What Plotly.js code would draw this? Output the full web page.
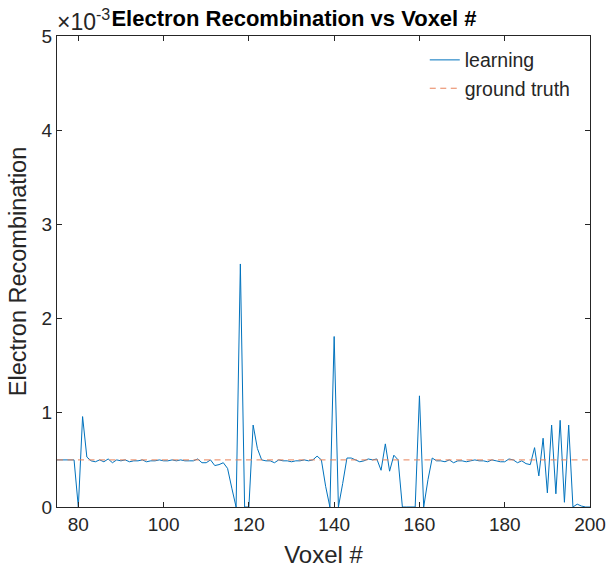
<!DOCTYPE html>
<html>
<head>
<meta charset="utf-8">
<script src="https://cdn.plot.ly/plotly-3.0.1.min.js"></script>
<style>html,body{margin:0;padding:0;background:#fff;}#chart{width:610px;height:573px;}</style>
</head>
<body>
<div id="chart"></div>
<script>
// Voxel numbers
const voxels = [];
for (let v = 75; v <= 200; v++) voxels.push(v);

// learning values (units of 1e-3)
const learningE3 = [
  0.50, 0.50, 0.50, 0.50, 0.50, 0.00, 0.96, 0.53, 0.49, 0.48, // 75-84
  0.50, 0.48, 0.51, 0.47, 0.50, 0.49, 0.50, 0.48, 0.49, 0.49, // 85-94
  0.50, 0.48, 0.49, 0.49, 0.50, 0.49, 0.49, 0.50, 0.49, 0.50, // 95-104
  0.49, 0.49, 0.49, 0.51, 0.47, 0.47, 0.50, 0.44, 0.45, 0.47, // 105-114
  0.41, 0.20, 0.00, 2.58, 0.00, 0.00, 0.87, 0.62, 0.50, 0.49, // 115-124
  0.49, 0.47, 0.50, 0.49, 0.49, 0.48, 0.49, 0.49, 0.50, 0.49, // 125-134
  0.50, 0.54, 0.50, 0.22, 0.00, 1.81, 0.00, 0.25, 0.52, 0.52, // 135-144
  0.50, 0.48, 0.49, 0.51, 0.50, 0.51, 0.39, 0.67, 0.38, 0.55, // 145-154
  0.50, 0.00, 0.00, 0.00, 0.00, 1.18, 0.00, 0.29, 0.52, 0.49, // 155-164
  0.49, 0.48, 0.50, 0.47, 0.49, 0.49, 0.48, 0.49, 0.50, 0.49, // 165-174
  0.49, 0.48, 0.50, 0.49, 0.48, 0.48, 0.51, 0.50, 0.47, 0.49, // 175-184
  0.46, 0.45, 0.63, 0.33, 0.73, 0.15, 0.87, 0.14, 0.92, 0.05, // 185-194
  0.87, 0.00, 0.03, 0.01, 0.00, 0.00                          // 195-200
];
const learning = learningE3.map(v => v * 1e-3);

const groundTruthValue = 0.5e-3;
const groundTruth = voxels.map(() => groundTruthValue);

const xTickVals = [80, 100, 120, 140, 160, 180, 200];
const yTickVals = [0, 0.001, 0.002, 0.003, 0.004, 0.005];
const yTickText = ['0', '1', '2', '3', '4', '5'];

const axisColor = '#262626';
const fontFam = 'Liberation Sans, Arial, Helvetica, sans-serif';

const traces = [
  {
    x: voxels, y: learning, type: 'scatter', mode: 'lines', name: 'learning',
    line: {color: '#0072BD', width: 1}
  },
  {
    x: voxels, y: groundTruth, type: 'scatter', mode: 'lines', name: 'ground truth',
    line: {color: '#E8825A', width: 1, dash: '6px,4.5px'}
  }
];

const layout = {
  width: 610, height: 573,
  margin: {l: 57, r: 20, t: 36, b: 66},
  paper_bgcolor: '#fff', plot_bgcolor: '#fff',
  font: {family: fontFam, color: axisColor, size: 19},
  title: {
    text: '<b>Electron Recombination vs Voxel #</b>',
    font: {family: fontFam, size: 22, color: '#000'},
    x: 294 / 610, xanchor: 'center', xref: 'container',
    y: 1 - 18 / 573, yanchor: 'middle', yref: 'container'
  },
  showlegend: true,
  legend: {
    x: 0.69, y: 0.99, xanchor: 'left', yanchor: 'top',
    bgcolor: 'rgba(255,255,255,0)', borderwidth: 0,
    font: {family: fontFam, size: 19.5, color: axisColor},
    tracegroupgap: 0
  },
  xaxis: {
    range: [75, 200], tickvals: xTickVals, ticks: 'inside', ticklen: 5,
    tickcolor: axisColor, showline: true, linecolor: axisColor, linewidth: 1,
    mirror: 'ticks', showgrid: false, zeroline: false,
    tickfont: {family: fontFam, size: 19, color: axisColor},
    title: {text: 'Voxel #', font: {family: fontFam, size: 24, color: axisColor}, standoff: 12}
  },
  yaxis: {
    range: [0, 0.005], tickvals: yTickVals, ticktext: yTickText, ticks: 'inside', ticklen: 5,
    tickcolor: axisColor, showline: true, linecolor: axisColor, linewidth: 1,
    mirror: 'ticks', showgrid: false, zeroline: false,
    tickfont: {family: fontFam, size: 19, color: axisColor},
    title: {text: 'Electron Recombination', font: {family: fontFam, size: 23.5, color: axisColor}, standoff: 8}
  },
  annotations: [
    {
      text: '\u00d710<sup>-3</sup>', xref: 'paper', yref: 'paper',
      x: 0, y: 1, xanchor: 'left', yanchor: 'bottom', showarrow: false,
      font: {family: fontFam, size: 23, color: axisColor}, xshift: -2, yshift: -1
    }
  ]
};

Plotly.newPlot('chart', traces, layout, {displayModeBar: false, staticPlot: true});
</script>
</body>
</html>
